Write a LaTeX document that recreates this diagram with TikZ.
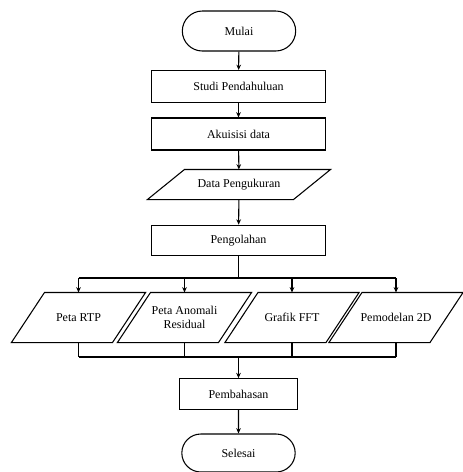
\documentclass[tikz,border=0pt]{standalone}
\usepackage{fontspec}
\setmainfont{Liberation Serif}
\usetikzlibrary{
  arrows.meta,
  positioning,
  shapes.misc,
}
\tikzset{
  >={Stealth[length=4pt,width=3.5pt]},
  every node/.style={font=\fontsize{9}{10.5}\selectfont},
  terminal/.style={draw, rounded rectangle, inner sep=0pt,
    minimum width=85pt, minimum height=30pt},
  proses/.style={draw, rectangle, inner sep=0pt,
    minimum width=130pt, minimum height=24pt},
  datain/.style={rectangle, inner sep=0pt,
    minimum width=75pt, minimum height=36.75pt},
}

\begin{document}
\begin{tikzpicture}[x=0.75pt, y=0.75pt, line width=0.8pt]
  \useasboundingbox (0,0) rectangle (462,-472);

  \node [terminal] (mulai) at (239,-31) {Mulai};
  \node [proses] (studi) at (238.5,-86.5) {Studi Pendahuluan};
  \node [proses] (akuisisi) at (238.5,-134) {Akuisisi data};
  \node [datain, minimum width=108.75pt, minimum height=21.75pt]
    (data) at (239,-184.5) {Data Pengukuran};
  \node [proses, minimum height=23pt] (olah) at (238.5,-240.5) {Pengolahan};

  % hasil pengolahan
  \node [datain] (rtp) at (78.5,-317.5) {Peta RTP};
  \node [datain, align=center] (residual) at (184.5,-317.5)
    {Peta Anomali\\Residual};
  \node [datain] (fft) at (292,-317.5) {Grafik FFT};
  \node [datain] (model) at (396,-317.5) {Pemodelan 2D};

  \node [proses, minimum width=88pt, minimum height=23pt]
    (bahas) at (238.5,-394) {Pembahasan};
  \node [terminal, minimum height=28.5pt] (selesai) at (238.5,-453) {Selesai};

  % sisi miring jajaran genjang
  \foreach \n/\s in {data/13.9pt, rtp/12.4pt, residual/12.4pt,
                     fft/12.4pt, model/12.4pt} {
    \draw ([xshift=\s]\n.north west) -- ([xshift=\s]\n.north east)
      -- ([xshift=-\s]\n.south east) -- ([xshift=-\s]\n.south west) -- cycle;
  }

  \coordinate (bagi) at (238.5,-278);
  \coordinate (gabung) at (238.5,-357);

  \draw [->] (mulai) -- (studi);
  \draw [->] (studi) -- (akuisisi);
  \draw [->] (akuisisi) -- (data);
  \draw [->] (data) -- (olah);
  \draw (olah) -- (bagi);
  \draw (rtp.north |- bagi) -- (model.north |- bagi);
  \foreach \n in {rtp, residual, fft, model} {
    \draw [->] (\n.north |- bagi) -- (\n.north);
    \draw (\n.south) -- (\n.south |- gabung);
  }
  \draw (rtp.south |- gabung) -- (model.south |- gabung);
  \draw [->] (gabung) -- (bahas);
  \draw [->] (bahas) -- (selesai);
\end{tikzpicture}
\end{document}
